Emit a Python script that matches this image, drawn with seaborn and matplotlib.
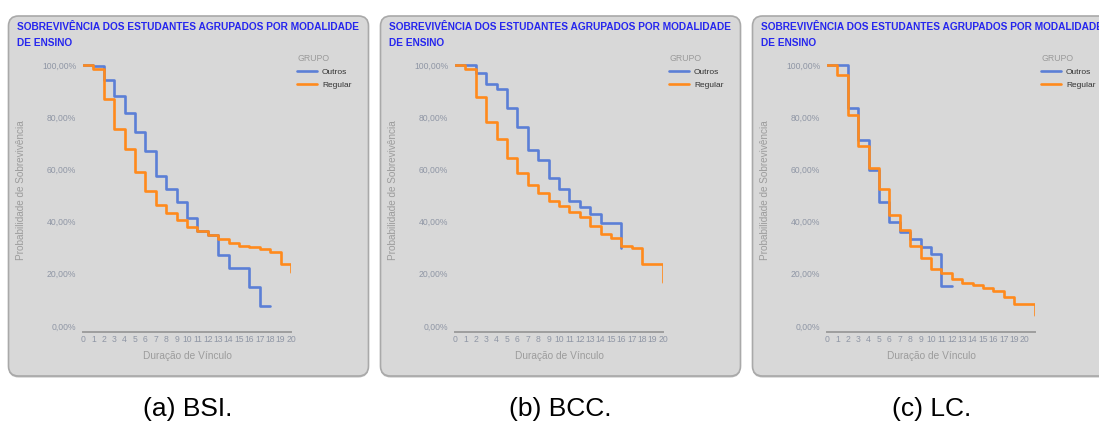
import pandas as pd
import seaborn as sns
import matplotlib.pyplot as plt
from matplotlib.patches import FancyBboxPatch

W, H = 1099, 423

titulo_linhas = ["SOBREVIVÊNCIA DOS ESTUDANTES AGRUPADOS POR MODALIDADE", "DE ENSINO"]
legendas = ["(a) BSI.", "(b) BCC.", "(c) LC."]
cores = {"Outros": "#5b7fd6", "Regular": "#ff8a1c"}

y_ticks = [0, 20, 40, 60, 80, 100]
y_tick_labels = ["0,00%", "20,00%", "40,00%", "60,00%", "80,00%", "100,00%"]

xlabels_bsi = [str(i) for i in range(21)]
xlabels_bcc = [str(i) for i in range(21)]
xlabels_lc = [str(i) for i in range(18)] + ["19", "20"]

# curvas de sobrevivencia (%), um valor por periodo
bsi_outros = [100, 99.5, 94.2, 88.0, 81.8, 74.3, 66.9, 57.3, 52.4, 47.7, 41.3,
              36.4, 34.8, 27.2, 22.1, 22.1, 14.8, 7.7, 7.7]
bsi_regular = [100, 98.6, 87.1, 75.3, 67.8, 59.1, 51.8, 46.4, 43.2, 40.7, 38.1,
               36.4, 34.8, 33.4, 31.7, 30.7, 30.1, 29.4, 28.5, 23.8, 20.8]

bcc_outros = [100, 100, 97.1, 92.8, 90.7, 83.7, 76.2, 67.4, 63.5, 56.6, 52.4,
              48.0, 45.7, 43.0, 39.3, 39.3, 29.8]
bcc_regular = [100, 98.5, 87.7, 78.2, 71.6, 64.4, 58.5, 54.1, 51.1, 48.0, 46.0,
               43.7, 41.8, 38.3, 35.4, 33.6, 30.7, 29.9, 23.9, 23.9, 16.9]

lc_outros = [100, 100, 83.5, 71.3, 59.7, 47.4, 39.9, 35.9, 33.4, 30.3, 27.5,
             15.2, 15.2]
lc_regular = [100, 96.3, 80.8, 68.8, 60.7, 52.4, 42.6, 36.7, 30.6, 26.1, 21.9,
              20.2, 18.1, 16.6, 15.6, 14.6, 13.6, 11.1, 8.6, 8.6, 4.1]

paineis = [
    (bsi_outros, bsi_regular, xlabels_bsi),
    (bcc_outros, bcc_regular, xlabels_bcc),
    (lc_outros, lc_regular, xlabels_lc),
]


def monta_df(outros, regular):
    linhas = []
    for grupo, vals in (("Outros", outros), ("Regular", regular)):
        for t, v in enumerate(vals):
            linhas.append({"tempo": t, "sobrevivencia": v, "grupo": grupo})
    return pd.DataFrame(linhas)


sns.set_style("white")
plt.rcParams["font.family"] = ["Liberation Sans", "DejaVu Sans"]

fig = plt.figure(figsize=(W / 100, H / 100), dpi=100)

# fundo em coordenadas de pixel para os cartoes
bg = fig.add_axes([0, 0, 1, 1])
bg.set_xlim(0, W)
bg.set_ylim(H, 0)
bg.axis("off")


def fx(x):
    return x / W


def fy(y):
    return 1 - y / H


cinza_tick = "#8f96a5"
cinza_label = "#9c9c9c"

for i, (outros, regular, xlabels) in enumerate(paineis):
    off = 372 * i

    sombra = FancyBboxPatch((off + 8.5, 17.5), 360, 360,
                            boxstyle="round,pad=0,rounding_size=10",
                            facecolor="#bdbdbd", edgecolor="none", zorder=0)
    bg.add_patch(sombra)
    card = FancyBboxPatch((off + 8.5, 16), 360, 360,
                          boxstyle="round,pad=0,rounding_size=10",
                          facecolor="#d8d8d8", edgecolor="#a9a9a9",
                          linewidth=1.2, zorder=1)
    bg.add_patch(card)

    for k, linha in enumerate(titulo_linhas):
        fig.text(fx(off + 17), fy(26.5 + 16.3 * k), linha, color="#2626ee",
                 fontsize=7.25, fontweight="bold", ha="left", va="center")

    # eixo do grafico
    x0, x1 = off + 83, off + 291
    y_top, y_bot = 59.8, 332
    ax = fig.add_axes([fx(x0), fy(y_bot), (x1 - x0) / W, (y_bot - y_top) / H])
    ax.set_facecolor("none")

    df = monta_df(outros, regular)
    sns.lineplot(data=df, x="tempo", y="sobrevivencia", hue="grupo",
                 palette=cores, estimator=None, errorbar=None,
                 drawstyle="steps-post", linewidth=1.9, ax=ax)

    ax.set_xlim(0, 20)
    ax.set_ylim(-2.3, 102)
    ax.set_xticks(range(len(xlabels)))
    ax.set_xticklabels(xlabels)
    ax.set_yticks(y_ticks)
    ax.set_yticklabels(y_tick_labels)
    ax.tick_params(axis="both", length=0, labelsize=6.2, labelcolor=cinza_tick)
    ax.tick_params(axis="x", pad=2.5)
    ax.tick_params(axis="y", pad=5)
    for lado in ("top", "right", "left"):
        ax.spines[lado].set_visible(False)
    ax.spines["bottom"].set_color("#9e9e9e")
    ax.spines["bottom"].set_linewidth(1.4)
    ax.set_xlabel("")
    ax.set_ylabel("")
    ax.grid(False)

    fig.text(fx(off + 187), fy(356), "Duração de Vínculo", color=cinza_label,
             fontsize=7.3, ha="center", va="center")
    fig.text(fx(off + 21), fy(190), "Probabilidade de Sobrevivência",
             color=cinza_label, fontsize=7.2, rotation=90,
             ha="center", va="center")

    handles, labels = ax.get_legend_handles_labels()
    leg = ax.legend(handles, labels, title="GRUPO", loc="upper left",
                    bbox_to_anchor=(fx(off + 297), fy(54)),
                    bbox_transform=fig.transFigure, frameon=False,
                    fontsize=6, title_fontsize=6.3, handlelength=2.4,
                    handletextpad=0.6, labelspacing=0.62, borderpad=0,
                    borderaxespad=0, alignment="left")
    leg.get_title().set_color("#9a9a9a")
    for t in leg.get_texts():
        t.set_color("#333333")

    fig.text(fx(off + 188), fy(409), legendas[i], fontsize=19,
             ha="center", va="center", color="black")

fig.savefig("out.png", dpi=100)
